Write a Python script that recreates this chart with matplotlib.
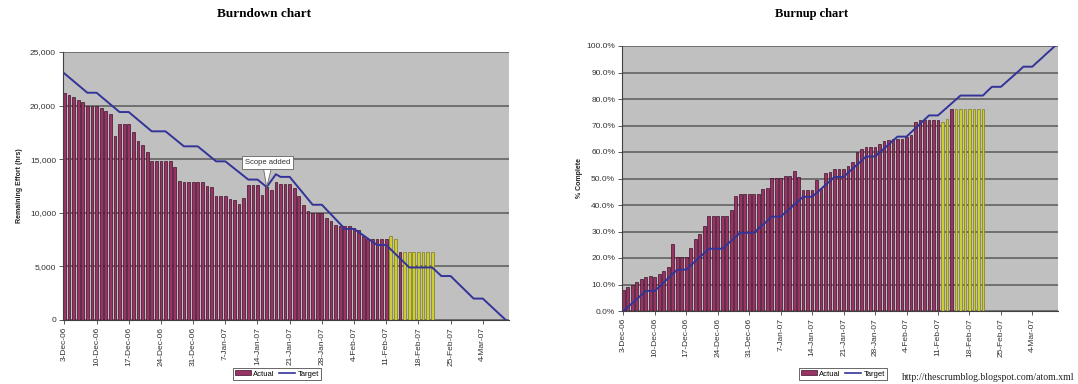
import matplotlib
matplotlib.use('Agg')
import matplotlib.pyplot as plt
from matplotlib.patches import Patch
from matplotlib.lines import Line2D
import numpy as np
import pandas as pd

plt.rcParams['font.family'] = ['Liberation Sans', 'DejaVu Sans']

# one category per calendar day, 3-Dec-06 .. 9-Mar-07
days = pd.date_range('2006-12-03', periods=97, freq='D')
tick_labels = [f'{d.day}-{d.strftime("%b-%y")}' for d in days[::7]]

burndown_actual = [21200, 21000, 20800, 20500, 20300, 20000, 20000, 20000, 19800, 19500,
                   19200, 17200, 18300, 18300, 18300, 17500, 16700, 16300, 15700, 14800,
                   14800, 14800, 14800, 14800, 14300, 13000, 12900, 12900, 12900, 12900,
                   12900, 12500, 12400, 11600, 11600, 11600, 11300, 11200, 10800, 11400,
                   12600, 12600, 12600, 11700, 12400, 12100, 12900, 12700, 12700, 12700,
                   12300, 11600, 10700, 10200, 10000, 10000, 10000, 9500, 9200, 8900,
                   8800, 8800, 8800, 8600, 8400, 7800, 7600, 7600, 7600, 7600,
                   7600, 7800, 7600, 6300, 6300, 6300, 6300, 6300, 6300, 6300, 6300]

burndown_target = [23000, 22640, 22280, 21920, 21560, 21200, 21200, 21200, 20840, 20480,
                   20120, 19760, 19400, 19400, 19400, 19040, 18680, 18320, 17960, 17600,
                   17600, 17600, 17600, 17250, 16900, 16550, 16200, 16200, 16200, 16200,
                   15850, 15500, 15150, 14800, 14800, 14800, 14460, 14120, 13780, 13440,
                   13100, 13100, 13100, 12750, 12400, 13000, 13600, 13350, 13350, 13350,
                   12830, 12310, 11790, 11270, 10750, 10750, 10750, 10300, 9850, 9400,
                   8950, 8500, 8500, 8500, 8200, 7900, 7600, 7300, 7000, 7000,
                   7000, 6580, 6160, 5740, 5320, 4900, 4900, 4900, 4900, 4900,
                   4900, 4500, 4100, 4100, 4100, 3680, 3260, 2840, 2420, 2000,
                   2000, 2000, 1600, 1200, 800, 400, 0]

burnup_actual = [7.9, 8.9, 10.0, 11.0, 11.9, 12.9, 13.1, 13.0, 13.9, 15.2,
                 16.5, 25.3, 20.5, 20.5, 20.5, 23.6, 27.1, 29.0, 32.0, 35.8,
                 35.8, 35.8, 35.8, 35.8, 38.0, 43.5, 44.2, 44.2, 44.2, 44.2,
                 44.2, 45.9, 46.6, 50.3, 50.3, 50.3, 51.0, 51.1, 52.9, 50.6,
                 45.6, 45.6, 45.6, 49.4, 45.9, 52.1, 52.5, 53.4, 53.4, 53.4,
                 54.7, 56.3, 60.0, 61.3, 61.9, 61.9, 61.9, 63.2, 64.0, 64.5,
                 65.0, 65.0, 65.0, 65.7, 66.6, 71.2, 72.0, 72.0, 72.0, 72.0,
                 72.0, 71.4, 72.6, 76.4, 76.4, 76.4, 76.4, 76.4, 76.4, 76.4, 76.4]

burnup_target = [0.0, 1.5, 3.0, 4.5, 6.0, 7.6, 7.6, 7.6, 9.2, 10.8,
                 12.4, 14.0, 15.6, 15.6, 15.6, 17.2, 18.8, 20.3, 21.9, 23.5,
                 23.5, 23.5, 23.5, 25.0, 26.5, 28.0, 29.5, 29.5, 29.5, 29.5,
                 31.0, 32.5, 34.0, 35.6, 35.6, 35.6, 37.1, 38.6, 40.1, 41.6,
                 43.1, 43.1, 43.1, 44.6, 46.1, 47.6, 49.1, 50.6, 50.6, 50.6,
                 52.2, 53.7, 55.2, 56.7, 58.3, 58.3, 58.3, 59.8, 61.3, 62.8,
                 64.3, 65.8, 65.8, 65.8, 67.4, 69.0, 70.6, 72.2, 73.8, 73.8,
                 73.8, 75.3, 76.8, 78.3, 79.8, 81.3, 81.3, 81.3, 81.3, 81.3,
                 81.3, 83.0, 84.6, 84.6, 84.6, 86.1, 87.6, 89.1, 90.6, 92.2,
                 92.2, 92.2, 93.8, 95.3, 96.9, 98.4, 100.0]

# bars that were coloured yellow in the original workbook
bar_kind = ['a'] * 71 + ['y', 'y', 'a'] + ['y'] * 7

burndown_ticks = [0, 5000, 10000, 15000, 20000, 25000]
burnup_ticks = [0, 10, 20, 30, 40, 50, 60, 70, 80, 90, 100]

MAROON, MAROON_EDGE = '#993366', '#3e1128'
YELLOW, YELLOW_EDGE = '#cccc33', '#7a7a24'
NAVY = '#333399'
PLOT_BG = '#c0c0c0'
GRID = '#636363'


def draw_chart(ax, actual, target, yticks, ylabels, ylabel):
    ax.set_facecolor(PLOT_BG)
    x = np.arange(len(days))
    fc = [MAROON if k == 'a' else YELLOW for k in bar_kind]
    ec = [MAROON_EDGE if k == 'a' else YELLOW_EDGE for k in bar_kind]
    ax.bar(x[:len(actual)], actual, width=0.6, color=fc, edgecolor=ec, linewidth=0.5, zorder=2)
    ax.plot(x, target, color=NAVY, lw=1.4, zorder=3)

    ax.set_xlim(-0.3, len(days) - 0.3)
    ax.set_ylim(0, yticks[-1])
    ax.set_yticks(yticks)
    ax.set_yticklabels(ylabels)
    ax.set_xticks(x[::7])
    ax.set_xticklabels(tick_labels, rotation=90)
    ax.yaxis.grid(True, color=GRID, lw=1.2)
    ax.set_axisbelow(True)
    ax.tick_params(axis='both', labelsize=6, length=3, width=0.6, colors='#404040',
                   labelcolor='#333333', pad=2)
    for side in ['top', 'right']:
        ax.spines[side].set_visible(False)
    for side in ['left', 'bottom']:
        ax.spines[side].set_color('#404040')
        ax.spines[side].set_linewidth(0.8)
    ax.set_ylabel(ylabel, fontsize=5, fontweight='bold', color='#222222')
    ax.yaxis.set_label_coords(-0.09, 0.5)


fig = plt.figure(figsize=(10.78, 3.84), dpi=100)

ax1 = fig.add_axes([63 / 1078, 1 - 320 / 384, 446 / 1078, 268 / 384])
draw_chart(ax1, burndown_actual, burndown_target, burndown_ticks,
           [f'{v:,}' for v in burndown_ticks], 'Remaining Effort (hrs)')
ax1.annotate('Scope added', xy=(44, burndown_target[44]), xytext=(44.2, 14700),
             fontsize=5.5, color='#333333', ha='center', va='center',
             bbox=dict(boxstyle='square,pad=0.35', fc='white', ec='#666666', lw=0.6),
             arrowprops=dict(arrowstyle='wedge,tail_width=1.0', fc='white', ec='#666666',
                             lw=0.6, shrinkA=0, shrinkB=0))

ax2 = fig.add_axes([622 / 1078, 1 - 311 / 384, 436 / 1078, 265 / 384])
draw_chart(ax2, burnup_actual, burnup_target, burnup_ticks,
           [f'{v:.1f}%' for v in burnup_ticks], '% Complete')

fig.text(264 / 1078, 1 - 14 / 384, 'Burndown chart', ha='center', va='center',
         fontsize=9.5, fontweight='bold', family='Liberation Serif')
fig.text(812 / 1078, 1 - 14 / 384, 'Burnup chart', ha='center', va='center',
         fontsize=9, fontweight='bold', family='Liberation Serif')

handles = [Patch(facecolor=MAROON, edgecolor=MAROON_EDGE, lw=0.5),
           Line2D([], [], color=NAVY, lw=1.2)]
for cx in [277 / 1078, 843 / 1078]:
    leg = fig.legend(handles, ['Actual', 'Target'], loc='center',
                     bbox_to_anchor=(cx, 1 - 374 / 384), ncol=2, fontsize=5.5,
                     frameon=True, fancybox=False, handlelength=2.1, handleheight=0.6,
                     handletextpad=0.25, columnspacing=0.6, borderpad=0.35)
    leg.get_frame().set_edgecolor('#222222')
    leg.get_frame().set_linewidth(0.6)

fig.text(1075 / 1078, 1 - 378 / 384, 'http://thescrumblog.blogspot.com/atom.xml',
         ha='right', va='center', fontsize=7, family='Liberation Serif', color='#222222')

fig.savefig('out.png', dpi=100)
